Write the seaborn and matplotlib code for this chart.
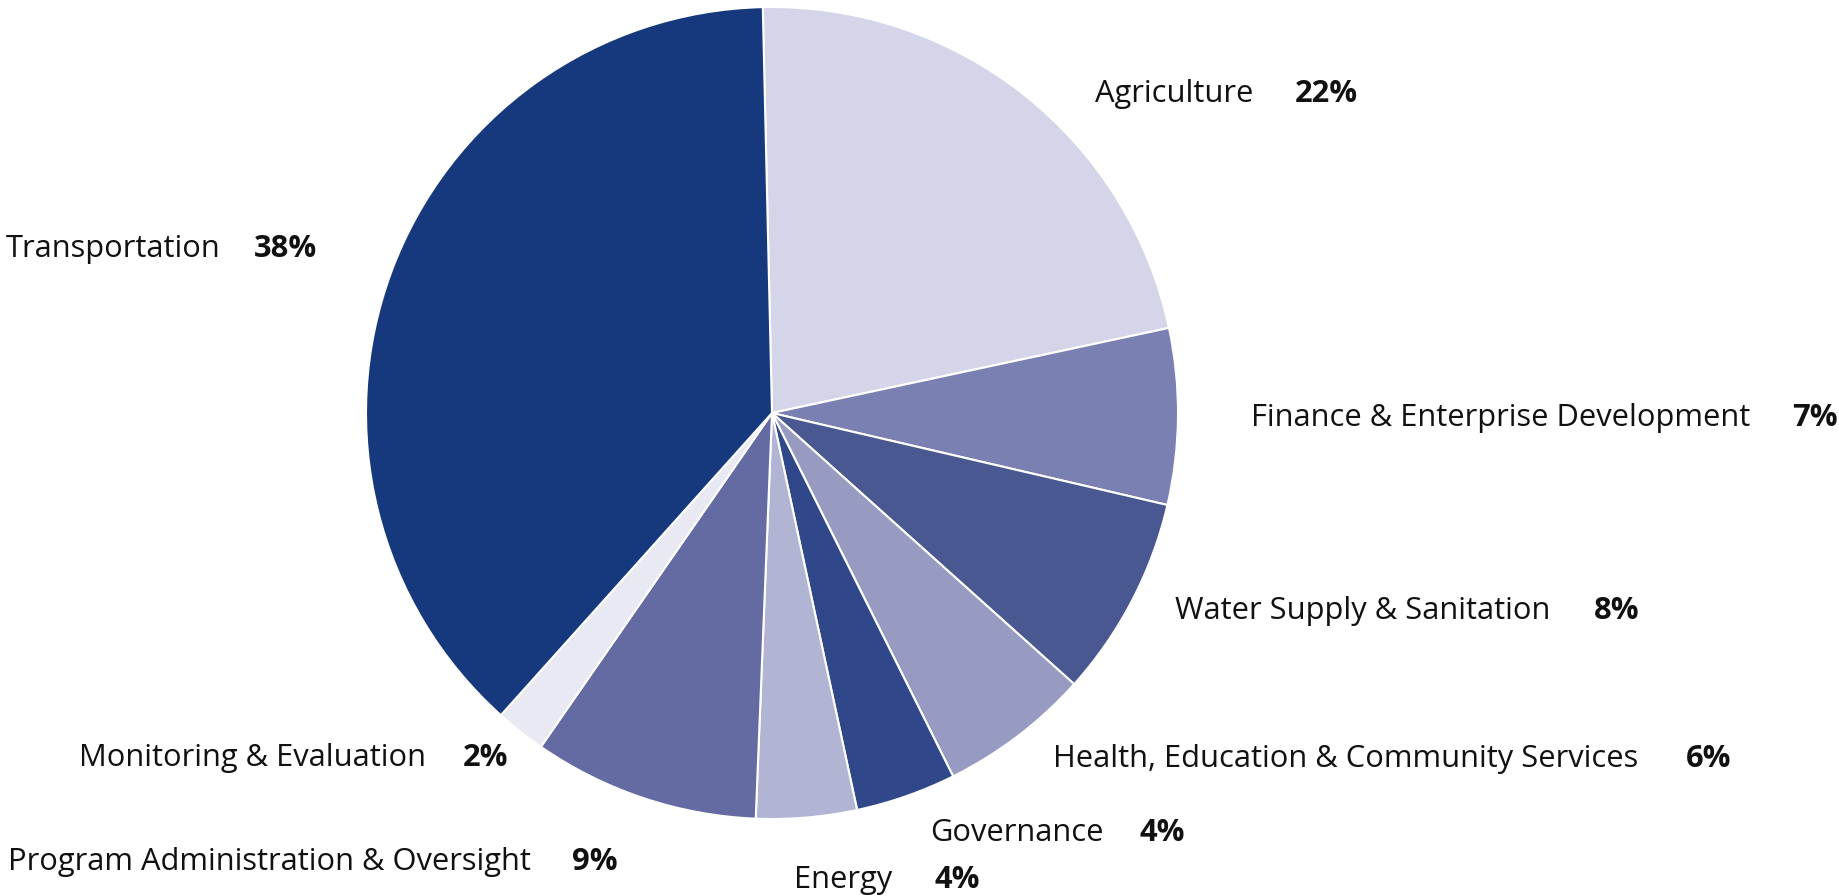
import matplotlib
matplotlib.use("Agg")
import matplotlib.pyplot as plt
import seaborn as sns

# Sector shares (percent), listed clockwise from the top
sectors = [
    "Agriculture",
    "Finance & Enterprise Development",
    "Water Supply & Sanitation",
    "Health, Education & Community Services",
    "Governance",
    "Energy",
    "Program Administration & Oversight",
    "Monitoring & Evaluation",
    "Transportation",
]
shares = [22, 7, 8, 6, 4, 4, 9, 2, 38]
hex_colors = [
    "#d4d5e8", "#7a80b1", "#4a5892", "#979ac1", "#30488a",
    "#b1b4d3", "#646ba2", "#e8e9f3", "#16397e",
]

sns.set_theme(style="white")
plt.rcParams["font.family"] = ["Open Sans", "DejaVu Sans"]
palette = sns.color_palette(hex_colors)

W, H = 1839, 896
fig = plt.figure(figsize=(W / 100, H / 100), dpi=100)
fig.patch.set_facecolor("white")

# pie centre and radius in pixels
cx, cy, r = 772, 413, 406
ax = fig.add_axes([(cx - r) / W, 1 - (cy + r) / H, 2 * r / W, 2 * r / H])
ax.pie(
    shares,
    colors=palette,
    startangle=91.3,
    counterclock=False,
    wedgeprops=dict(edgecolor="white", linewidth=1.5),
)
ax.set_xlim(-1, 1)
ax.set_ylim(-1, 1)
ax.set_aspect("equal")
ax.axis("off")

# label anchors: (name left x, value left x, centre y) in pixels
label_pos = {
    "Agriculture": (1095, 1295, 94),
    "Finance & Enterprise Development": (1251, 1792, 418),
    "Water Supply & Sanitation": (1175, 1594, 611),
    "Health, Education & Community Services": (1053, 1686, 759),
    "Governance": (930, 1140, 833),
    "Energy": (794, 935, 880),
    "Program Administration & Oversight": (8, 572, 862),
    "Monitoring & Evaluation": (79, 463, 758),
    "Transportation": (6, 254, 249),
}

fs = 22.2
for name, val in zip(sectors, shares):
    xn, xv, y = label_pos[name]
    fig.text(xn / W, 1 - y / H, name, fontsize=fs, color="#111111",
             ha="left", va="center")
    fig.text(xv / W, 1 - y / H, f"{val}%", fontsize=fs, color="#111111",
             fontweight="bold", ha="left", va="center")

fig.savefig("out.png", dpi=100, facecolor="white")
